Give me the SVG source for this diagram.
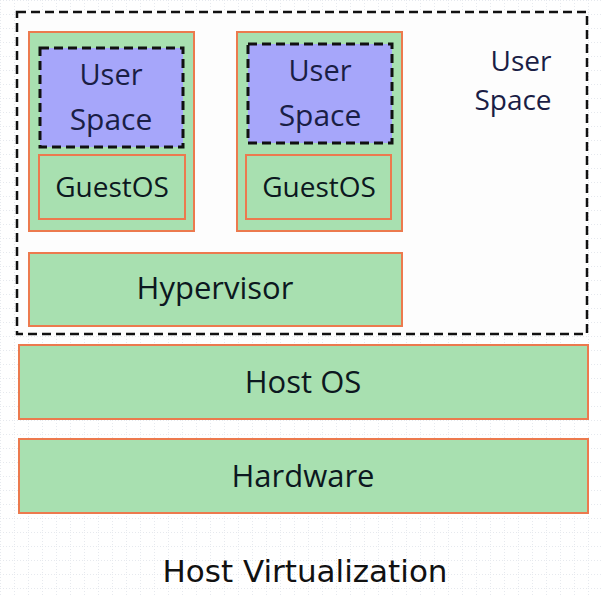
<svg xmlns="http://www.w3.org/2000/svg" width="601" height="597" viewBox="0 0 601 597">
<defs>
<pattern id="grid" width="14" height="14" patternUnits="userSpaceOnUse">
<path d="M0 0.5H14M0.5 0V14" stroke="#e6e9ee" stroke-width="1" stroke-dasharray="1 2" fill="none"/>
</pattern>
<style>
.box{fill:#a8e0b0;stroke:#ec7a4e;stroke-width:2}
.us{fill:#a6a6fa;stroke:#111;stroke-width:3;stroke-dasharray:9 5}
.outer{fill:#fdfdfd;stroke:#111;stroke-width:2.5;stroke-dasharray:9 5}
.t{font-family:"Open Sans",Lato,sans-serif;fill:#0c1820;text-anchor:middle}
.tu{font-family:"Open Sans",Lato,sans-serif;fill:#1a1e45;text-anchor:middle}
</style>
</defs>
<rect width="601" height="597" fill="#ffffff"/>
<rect width="601" height="597" fill="url(#grid)"/>
<g id="userspace-host">
<rect class="outer" x="17" y="12" width="570" height="322"/>
<text class="tu" x="521" y="71" font-size="28">User</text>
<text class="tu" x="513" y="110" font-size="28">Space</text>
</g>
<g id="vm1">
<rect class="box" x="29" y="32" width="165" height="199"/>
<rect class="us" x="40" y="48" width="143" height="99"/>
<text class="tu" x="111" y="85" font-size="29">User</text>
<text class="tu" x="111" y="130" font-size="30">Space</text>
<rect class="box" x="39" y="155" width="146" height="64"/>
<text class="t" x="112" y="197" font-size="28">GuestOS</text>
</g>
<g id="vm2">
<rect class="box" x="237" y="32" width="165" height="199"/>
<rect class="us" x="248" y="44" width="144" height="99"/>
<text class="tu" x="320" y="81" font-size="29">User</text>
<text class="tu" x="320" y="126" font-size="30">Space</text>
<rect class="box" x="246" y="155" width="145" height="64"/>
<text class="t" x="319" y="197" font-size="28">GuestOS</text>
</g>
<g id="hypervisor">
<rect class="box" x="29" y="253" width="373" height="73"/>
<text class="t" x="215" y="299" font-size="31">Hypervisor</text>
</g>
<g id="hostos">
<rect class="box" x="19" y="345" width="569" height="74"/>
<text class="t" x="303" y="393" font-size="31">Host OS</text>
</g>
<g id="hardware">
<rect class="box" x="19" y="439" width="569" height="74"/>
<text class="t" x="303" y="487" font-size="31">Hardware</text>
</g>
<g id="connectors"></g>
<text x="305" y="582" font-size="31" text-anchor="middle" font-family="'DejaVu Sans',sans-serif" fill="#111">Host Virtualization</text>
</svg>
